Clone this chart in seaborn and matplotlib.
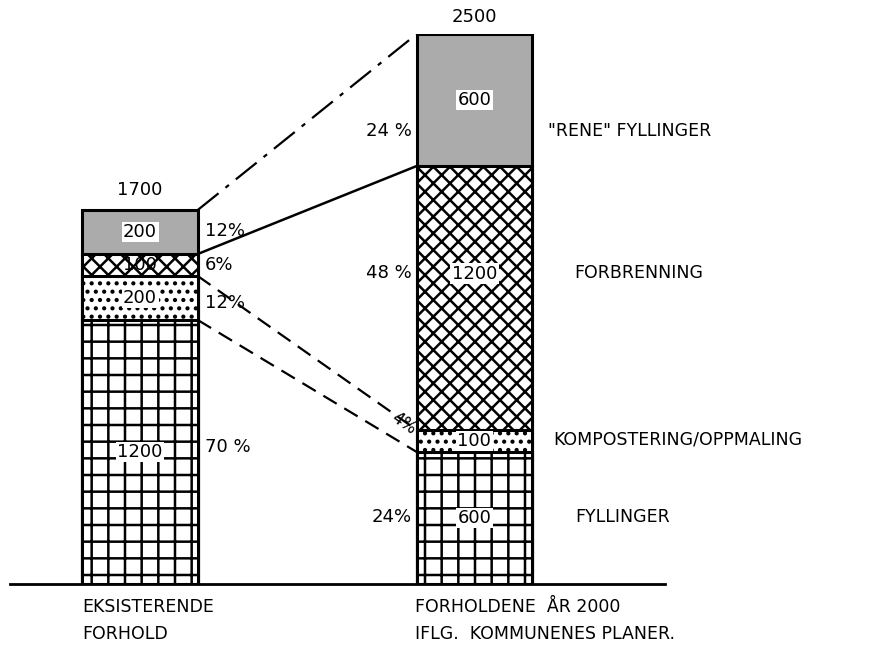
import matplotlib.pyplot as plt
import seaborn as sns
import pandas as pd

# values (tonnes, bottom -> top)
categories = ["Eksisterende", "År 2000"]
fyllinger = [1200, 600]
kompostering = [200, 100]
forbrenning = [100, 1200]
rene_fyllinger = [200, 600]
totals = [1700, 2500]
pct_left = ["70 %", "12%", "6%", "12%"]
layer_names = ["FYLLINGER", "KOMPOSTERING/OPPMALING", "FORBRENNING", '"RENE" FYLLINGER']
bottom_labels = ["EKSISTERENDE\nFORHOLD", "FORHOLDENE  ÅR 2000\nIFLG.  KOMMUNENES PLANER."]

sns.set_style("white")
plt.rcParams['font.family'] = ['DejaVu Sans']
plt.rcParams['text.color'] = 'black'
plt.rcParams['hatch.linewidth'] = 1.8

fig = plt.figure(figsize=(8.71, 6.54), dpi=100)
ax = fig.add_axes([10 / 871, 70 / 654, 655 / 871, 550 / 654])

layers = [fyllinger, kompostering, forbrenning, rene_fyllinger]
styles = [
    dict(color="white", hatch="+"),
    dict(color="white", hatch=".."),
    dict(color="white", hatch="xx"),
    dict(color="#ababab", hatch=None),
]

# stacked bars: draw cumulative heights from the top layer down
cum = [[sum(l[i] for l in layers[:k + 1]) for i in range(2)] for k in range(4)]
W = 0.345
for k in range(3, -1, -1):
    df = pd.DataFrame({"cat": categories, "val": cum[k]})
    sns.barplot(data=df, x="cat", y="val", ax=ax, width=W, saturation=1,
                errorbar=None, edgecolor="black", linewidth=2.2, **styles[k])

ax.set_xlim(-0.389, 1.570)
ax.set_ylim(0, 2500)
ax.set_xticks([])
ax.set_yticks([])
ax.set_xlabel("")
ax.set_ylabel("")
for s in ["top", "left", "right"]:
    ax.spines[s].set_visible(False)
ax.spines["bottom"].set_linewidth(2)
ax.spines["bottom"].set_color("black")

# connector lines between the bars
xl, xr = W / 2, 1 - W / 2
ax.plot([xl, xr], [cum[3][0], cum[3][1]], color="black", lw=1.6, ls="-.", dashes=(12, 4, 2, 4))
ax.plot([xl, xr], [cum[2][0], cum[2][1]], color="black", lw=1.8, ls="-")
ax.plot([xl, xr], [cum[1][0], cum[1][1]], color="black", lw=1.6, ls="--", dashes=(7, 4))
ax.plot([xl, xr], [cum[0][0], cum[0][1]], color="black", lw=1.6, ls="--", dashes=(7, 4))

fs = 13
box = dict(facecolor="white", edgecolor="none", pad=1)

# values inside bars
left_y = [600, 1300, 1450, 1600]
right_y = [300, 650, 1410, 2200]
for k in range(4):
    ax.text(0, left_y[k], str(layers[k][0]), ha="center", va="center", fontsize=fs,
            bbox=box if k != 2 else None)
    ax.text(1, right_y[k], str(layers[k][1]), ha="center", va="center", fontsize=fs,
            bbox=box)

# totals
ax.text(0, 1791, str(totals[0]), ha="center", va="center", fontsize=fs)
ax.text(1, 2577, str(totals[1]), ha="center", va="center", fontsize=fs)

# percentages
for txt, y in zip(pct_left, [623, 1277, 1450, 1605]):
    ax.text(0.194, y, txt, ha="left", va="center", fontsize=fs)
ax.text(0.813, 305, "24%", ha="right", va="center", fontsize=fs)
ax.text(0.79, 730, "4%", ha="center", va="center", fontsize=fs - 1, rotation=-35)
ax.text(0.813, 1414, "48 %", ha="right", va="center", fontsize=fs)
ax.text(0.813, 2059, "24 %", ha="right", va="center", fontsize=fs)

# layer names
for txt, x, y in zip(layer_names, [1.303, 1.235, 1.300, 1.220], [305, 655, 1414, 2059]):
    ax.text(x, y, txt, ha="left", va="center", fontsize=fs - 0.5)

# bar captions under the axis
ax.text(-0.173, -65, bottom_labels[0], ha="left", va="top", fontsize=fs - 0.5, linespacing=1.6)
ax.text(0.822, -65, bottom_labels[1], ha="left", va="top", fontsize=fs - 0.5, linespacing=1.6)

fig.savefig("out.png", dpi=100)
